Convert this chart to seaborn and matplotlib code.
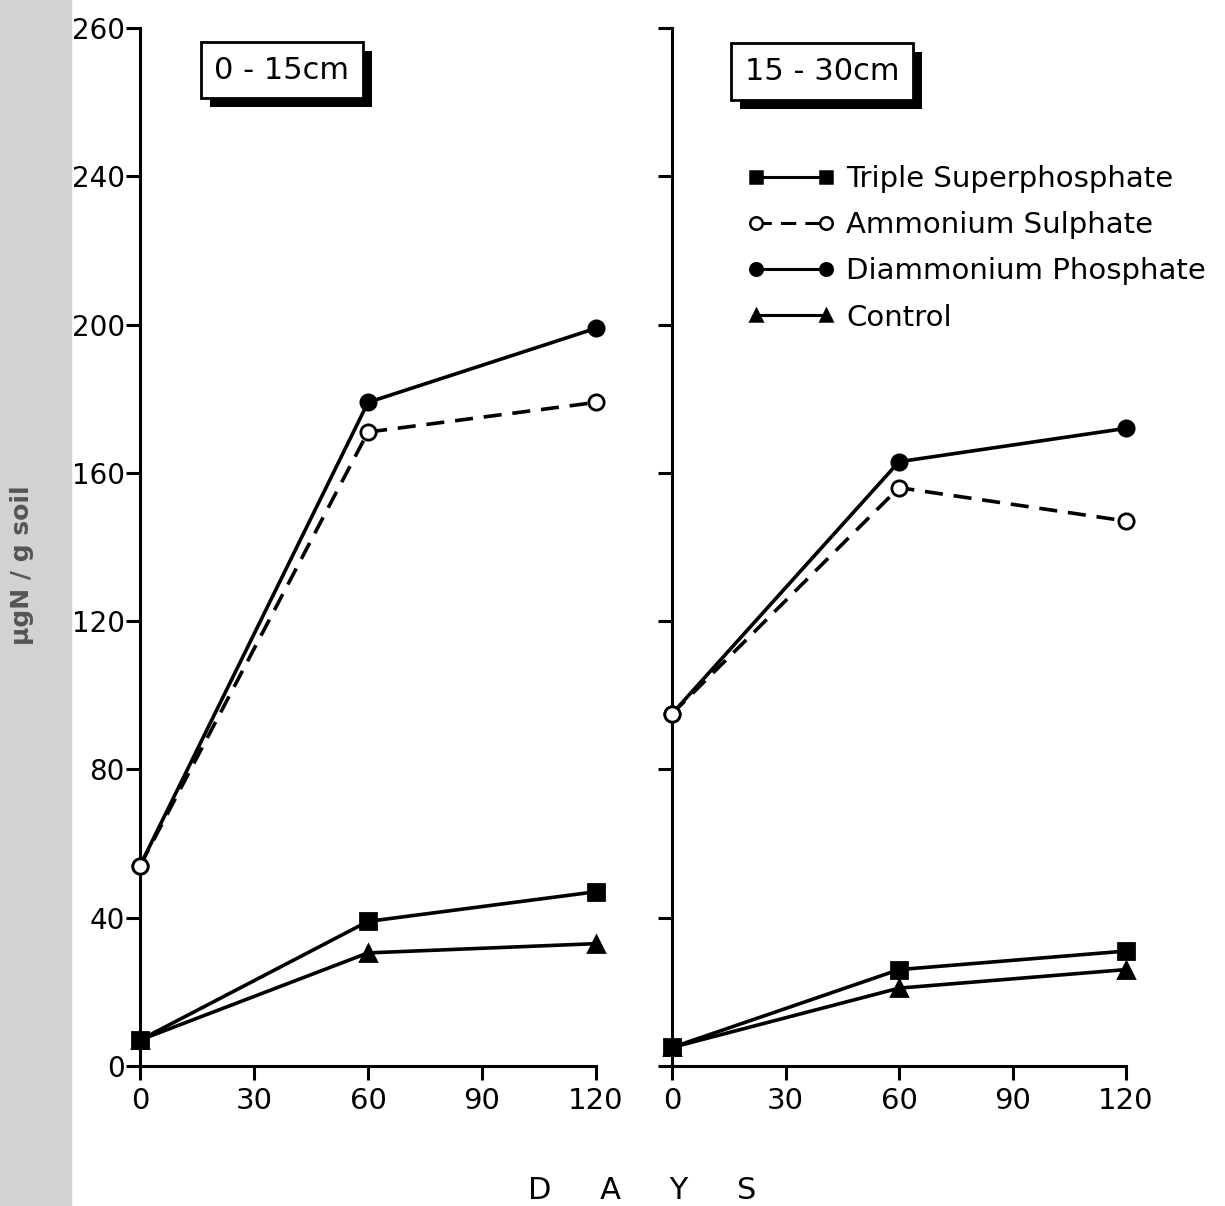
"""
Soil mineral N (ugN / g soil) after fertiliser application, two depths.

Two panels (0-15 cm, 15-30 cm), days 0/60/120, four treatments.
"""

import matplotlib.pyplot as plt
import pandas as pd
import seaborn as sns
from matplotlib import patheffects
from matplotlib.lines import Line2D
from matplotlib.patches import Rectangle

# -----------------------------------------------------------------------------
# Data
# -----------------------------------------------------------------------------
DAYS = [0, 60, 120]
TREATMENTS = [
    "Triple Superphosphate",
    "Ammonium Sulphate",
    "Diammonium Phosphate",
    "Control",
]

# 0-15 cm
TSP_0_15 = [7, 39, 47]
AS_0_15 = [54, 171, 179]
DAP_0_15 = [54, 179, 199]
CONTROL_0_15 = [7, 30.5, 33]

# 15-30 cm
TSP_15_30 = [5, 26, 31]
AS_15_30 = [95, 156, 147]
DAP_15_30 = [95, 163, 172]
CONTROL_15_30 = [5, 21, 26]

PANEL_TITLES = ["0 - 15cm", "15 - 30cm"]
X_TICKS = [0, 30, 60, 90, 120]
Y_TICKS = [0, 40, 80, 120, 160, 200, 240, 280]
# the original axis has its top tick printed as "260"
Y_TICK_LABELS = ["0", "40", "80", "120", "160", "200", "240", "260"]

# marker / line style per treatment
STYLES = {
    "Triple Superphosphate": dict(marker="s", mfc="black", ls="-"),
    "Ammonium Sulphate": dict(marker="o", mfc="white", ls=(0, (5, 3))),
    "Diammonium Phosphate": dict(marker="o", mfc="black", ls="-"),
    "Control": dict(marker="^", mfc="black", ls="-"),
}
DRAW_ORDER = ["Diammonium Phosphate", "Ammonium Sulphate", "Triple Superphosphate", "Control"]


def long_table() -> pd.DataFrame:
    series = {
        "0 - 15cm": [TSP_0_15, AS_0_15, DAP_0_15, CONTROL_0_15],
        "15 - 30cm": [TSP_15_30, AS_15_30, DAP_15_30, CONTROL_15_30],
    }
    rows = []
    for depth, values in series.items():
        for name, vals in zip(TREATMENTS, values):
            for d, v in zip(DAYS, vals):
                rows.append({"depth": depth, "treatment": name, "day": d, "n": v})
    return pd.DataFrame(rows)


def draw_label_box(ax, x, y, text):
    """Boxed panel label with a solid drop shadow, like the original."""
    t = ax.text(x, y, text, transform=ax.transAxes, ha="center", va="center",
                fontsize=22, color="black", zorder=6,
                bbox=dict(boxstyle="square,pad=0.45", lw=2, fc="white", ec="black"))
    t.get_bbox_patch().set_path_effects([
        patheffects.SimplePatchShadow(offset=(6.5, -6.5), shadow_rgbFace="black", alpha=1.0),
        patheffects.Normal(),
    ])


sns.set_style("ticks")
plt.rcParams["font.family"] = ["DejaVu Sans"]
plt.rcParams["text.color"] = "black"
plt.rcParams["xtick.color"] = "black"
plt.rcParams["ytick.color"] = "black"
plt.rcParams["axes.edgecolor"] = "black"

df = long_table()

fig = plt.figure(figsize=(12.25, 12.06), dpi=100)
# grey strip of the scan along the left edge
fig.patches.append(Rectangle((0, 0), 0.058, 1, transform=fig.transFigure,
                             color="#d2d2d2", zorder=-1))

axes = [
    fig.add_axes([0.1143, 0.1161, 0.3722, 0.8607]),
    fig.add_axes([0.5486, 0.1161, 0.3706, 0.8607]),
]
label_pos = [(0.311, 0.9595), (0.330, 0.958)]

for ax, depth, (lx, ly) in zip(axes, PANEL_TITLES, label_pos):
    sub = df[df["depth"] == depth]
    for name in DRAW_ORDER:
        st = STYLES[name]
        part = sub[sub["treatment"] == name]
        sns.lineplot(data=part, x="day", y="n", ax=ax, color="black", lw=2.6,
                     linestyle=st["ls"], marker=st["marker"], markersize=11,
                     markerfacecolor=st["mfc"], markeredgecolor="black",
                     markeredgewidth=2, clip_on=False, zorder=4)

    ax.set_xlim(0, 120)
    ax.set_ylim(0, 280)
    ax.set_xticks(X_TICKS)
    ax.set_yticks(Y_TICKS)
    ax.set_xlabel("")
    ax.set_ylabel("")
    for side in ["top", "right"]:
        ax.spines[side].set_visible(False)
    for side in ["left", "bottom"]:
        ax.spines[side].set_linewidth(2.2)
    ax.tick_params(axis="x", direction="out", length=10, width=2.2,
                   labelsize=21, pad=5, colors="black")
    ax.tick_params(axis="y", direction="out", length=10, width=2.2,
                   labelsize=20, pad=1, colors="black")
    ax.set_facecolor("none")
    draw_label_box(ax, lx, ly, depth)

axes[0].set_yticklabels(Y_TICK_LABELS)
axes[1].set_yticklabels([])

# legend in the right panel: marker - line - marker
handles = [
    Line2D([0, 1], [0, 0], color="black", lw=2.2, linestyle=STYLES[n]["ls"],
           marker=STYLES[n]["marker"], markersize=9, markerfacecolor=STYLES[n]["mfc"],
           markeredgecolor="black", markeredgewidth=1.8)
    for n in TREATMENTS
]
fig.legend(handles, TREATMENTS, loc="upper left", bbox_to_anchor=(0.598, 0.875),
           frameon=False, fontsize=21, numpoints=2, handlelength=3.0,
           handletextpad=0.4, labelspacing=0.62, borderpad=0, labelcolor="black")

fig.text(0.524, 0.013, "D     A     Y     S", ha="center", va="center", fontsize=22,
         color="black")
fig.text(0.018, 0.531, "µgN / g soil", rotation=90, ha="center", va="center",
         fontsize=18, fontweight="bold", color="#555555")

fig.savefig("out.png", dpi=100, facecolor="white")
plt.close(fig)
